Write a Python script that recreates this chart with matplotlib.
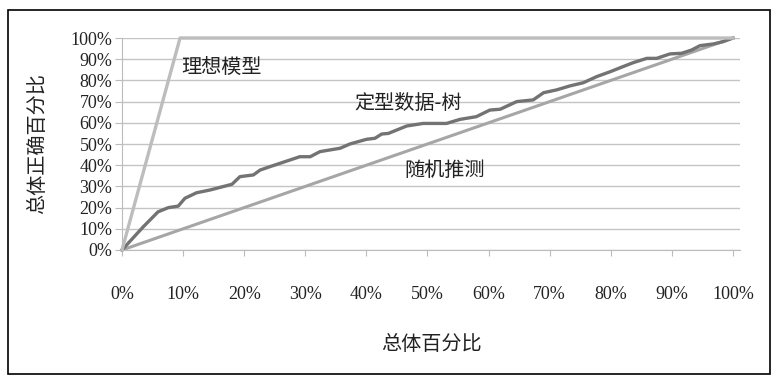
import matplotlib
matplotlib.use('Agg')
from matplotlib import pyplot as plt
from matplotlib.ticker import PercentFormatter
from matplotlib.patches import Rectangle

# curve data (fractions of the total)
ideal_x = [0.0, 0.095, 1.0]
ideal_y = [0.0, 1.0, 1.0]

random_x = [0.0, 1.0]
random_y = [0.0, 1.0]

tree_x = [0.0, 0.035, 0.059, 0.076, 0.092, 0.103, 0.122, 0.144, 0.18, 0.193, 0.215,
          0.226, 0.242, 0.291, 0.308, 0.324, 0.357, 0.373, 0.40, 0.414, 0.425, 0.436,
          0.466, 0.493, 0.531, 0.553, 0.58, 0.602, 0.619, 0.646, 0.673, 0.69, 0.711,
          0.733, 0.755, 0.777, 0.799, 0.82, 0.837, 0.859, 0.875, 0.897, 0.916, 0.932,
          0.946, 0.968, 0.984, 1.0]
tree_y = [0.0, 0.11, 0.18, 0.20, 0.207, 0.244, 0.27, 0.283, 0.31, 0.346, 0.354,
          0.377, 0.393, 0.44, 0.44, 0.464, 0.48, 0.50, 0.522, 0.527, 0.547, 0.55,
          0.585, 0.597, 0.597, 0.616, 0.629, 0.66, 0.664, 0.70, 0.708, 0.742, 0.755,
          0.774, 0.789, 0.818, 0.841, 0.865, 0.884, 0.904, 0.904, 0.925, 0.928, 0.943,
          0.964, 0.972, 0.983, 1.0]

ticks = [i / 10 for i in range(11)]

cjk = ['Noto Sans CJK SC', 'DejaVu Sans']
serif = 'Liberation Serif'

fig = plt.figure(figsize=(7.75, 3.8), dpi=100)
ax = fig.add_axes([122 / 775, 130 / 380, 618 / 775, 212 / 380])

ax.set_xlim(0, 618 / 611)
ax.set_ylim(0, 1)
ax.set_xticks(ticks)
ax.set_yticks(ticks)
ax.xaxis.set_major_formatter(PercentFormatter(1.0, decimals=0))
ax.yaxis.set_major_formatter(PercentFormatter(1.0, decimals=0))
for lab in ax.get_xticklabels() + ax.get_yticklabels():
    lab.set_fontfamily(serif)
    lab.set_fontsize(13)
    lab.set_color('#222222')
ax.tick_params(axis='x', length=4, pad=22, color='#bbbbbb')
ax.tick_params(axis='y', length=5, pad=2, color='#bbbbbb')

ax.grid(axis='y', color='#c4c4c4', linewidth=1.0)
ax.set_axisbelow(True)
for s in ['top', 'right']:
    ax.spines[s].set_visible(False)
ax.spines['left'].set_color('#bbbbbb')
ax.spines['bottom'].set_color('#bbbbbb')

ax.plot(random_x, random_y, color='#a6a6a6', linewidth=2.2, clip_on=False)
ax.plot(tree_x, tree_y, color='#737373', linewidth=2.4, clip_on=False)
ax.plot(ideal_x, ideal_y, color='#bdbdbd', linewidth=2.4, clip_on=False)

ax.text(0.097, 0.863, '理想模型', family=cjk, fontsize=14.5, color='#222222', va='center')
ax.text(0.38, 0.693, '定型数据-树', family=cjk, fontsize=14.5, color='#222222', va='center')
ax.text(0.462, 0.377, '随机推测', family=cjk, fontsize=14.5, color='#222222', va='center')

ax.set_xlabel('总体百分比', family=cjk, fontsize=14.5, color='#222222', labelpad=22)
ax.set_ylabel('总体正确百分比', family=cjk, fontsize=14.5, color='#222222', labelpad=16)

fig.patches.append(Rectangle((8 / 775, 6 / 380), 762 / 775, 364 / 380,
                             transform=fig.transFigure, fill=False,
                             edgecolor='black', linewidth=1.2))

fig.savefig('out.png', dpi=100)
